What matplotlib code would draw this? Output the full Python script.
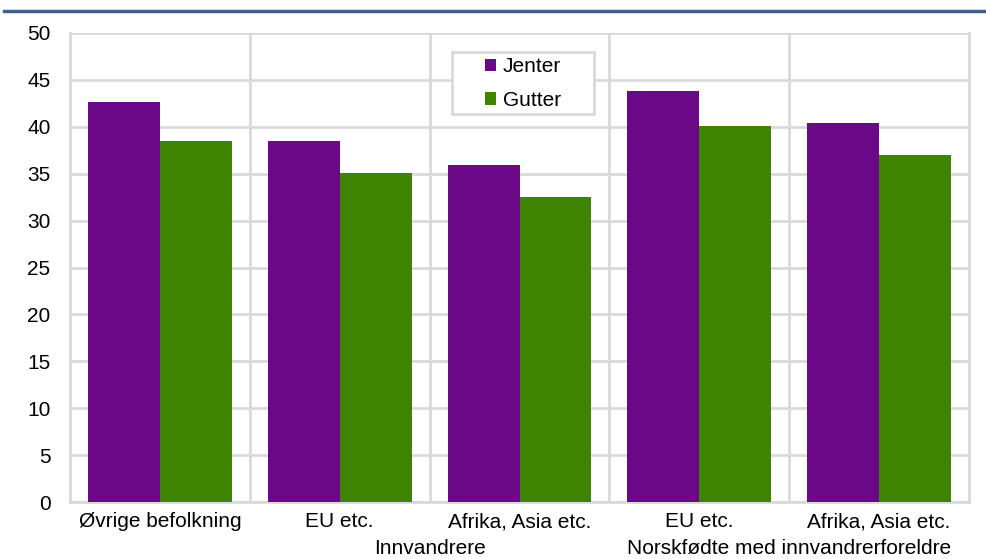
import matplotlib
matplotlib.use("Agg")
import matplotlib.pyplot as plt
from matplotlib.lines import Line2D
from matplotlib.patches import Rectangle
import numpy as np

plt.rcParams['font.family'] = ['Liberation Sans', 'DejaVu Sans']

categories = ["Øvrige befolkning", "EU etc.", "Afrika, Asia etc.", "EU etc.", "Afrika, Asia etc."]
groups = ["Innvandrere", "Norskfødte med innvandrerforeldre"]
jenter = [42.6, 38.5, 35.9, 43.8, 40.4]
gutter = [38.5, 35.1, 32.5, 40.1, 37.0]
yticks = [0, 5, 10, 15, 20, 25, 30, 35, 40, 45, 50]

purple = "#6a0888"
green = "#3f8400"
grid = "#d9d9d9"
FS = 15
W, H = 986, 559

fig = plt.figure(figsize=(W/100, H/100), dpi=100)
ax = fig.add_axes([70/W, 1-502/H, 899/W, 469/H])

x = np.arange(len(categories))
w = 0.4
ax.bar(x - w/2, jenter, w, color=purple, label="Jenter", zorder=3)
ax.bar(x + w/2, gutter, w, color=green, label="Gutter", zorder=3)

ax.set_xlim(-0.5, len(categories) - 0.5)
ax.set_ylim(0, 50)
ax.set_yticks(yticks)
ax.set_yticklabels([str(v) for v in yticks], fontsize=FS)
ax.yaxis.grid(True, color=grid, linewidth=2, zorder=0)
for b in np.arange(0.5, len(categories) - 0.5, 1.0):
    ax.axvline(b, color=grid, linewidth=2, zorder=1)
ax.tick_params(axis='y', length=0, pad=14)
ax.set_xticks(x)
ax.set_xticklabels(categories, fontsize=FS)
ax.tick_params(axis='x', length=0, pad=7.5)
for s in ['left', 'right', 'top', 'bottom']:
    ax.spines[s].set_color(grid)
    ax.spines[s].set_linewidth(2)
ax.spines['top'].set_visible(False)

# group labels
ax.text(1.5, -0.1, groups[0], transform=ax.get_xaxis_transform(), ha='center', va='center', fontsize=FS)
ax.text(3.5, -0.1, groups[1], transform=ax.get_xaxis_transform(), ha='center', va='center', fontsize=FS)

# legend box (Excel-like, wide padding)
fig.add_artist(Rectangle((452/W, 1-114/H), 142/W, 62/H, transform=fig.transFigure,
                         facecolor='white', edgecolor=grid, linewidth=2, zorder=4))
leg = fig.legend(*ax.get_legend_handles_labels(), loc='center', bbox_to_anchor=(523/W, 1-83.5/H),
                 fontsize=FS, handlelength=0.55, handleheight=0.55, handletextpad=0.3,
                 borderpad=0, labelspacing=0.7, frameon=False)
leg.set_zorder(5)

# top rule line
fig.add_artist(Line2D([4/W, 1.0], [1-11/H, 1-11/H], color="#3f5f8f", linewidth=2.5))

fig.savefig("out.png", dpi=100)
